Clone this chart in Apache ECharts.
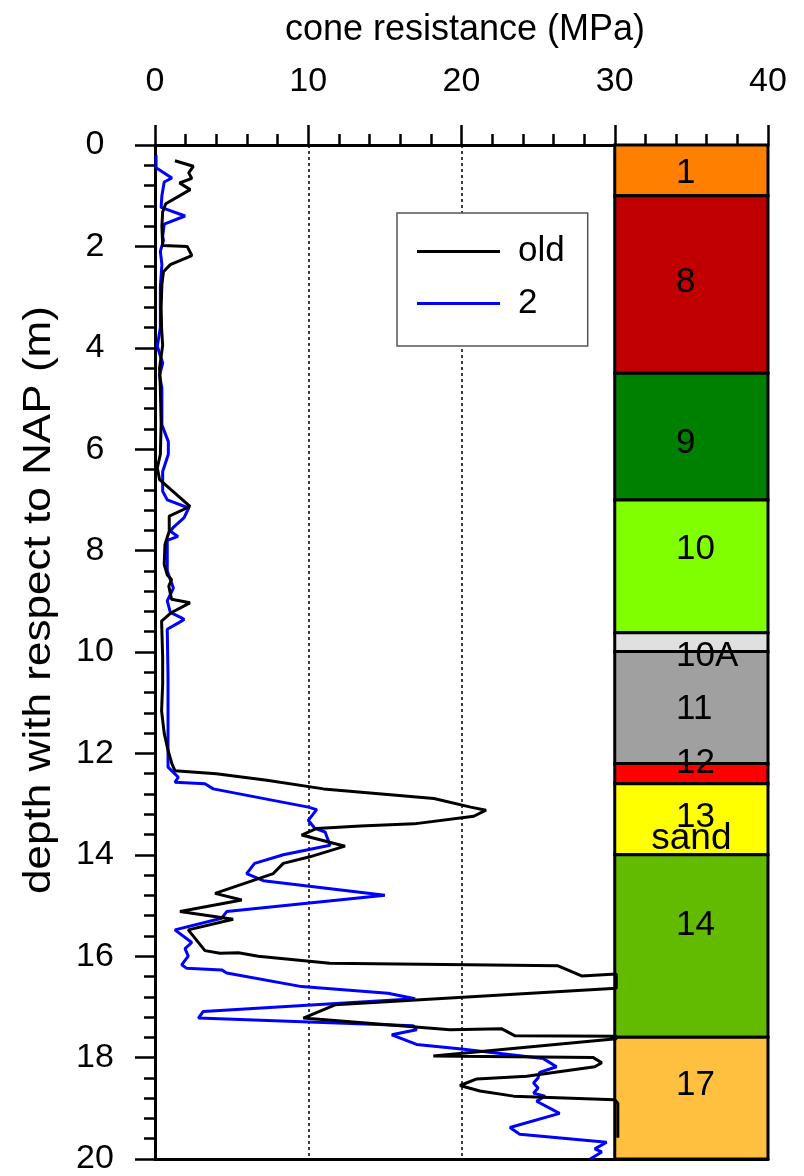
<!DOCTYPE html>
<html>
<head>
<meta charset="utf-8">
<script src="https://cdn.jsdelivr.net/npm/echarts@6/dist/echarts.min.js"></script>
<style>
html,body{margin:0;padding:0;background:#fff;}
#chart{width:804px;height:1176px;}
</style>
</head>
<body>
<div id="chart"></div>
<script>
// ---- data ----
const xTickLabels = ['0','10','20','30','40'];
const yTickLabels = ['0','2','4','6','8','10','12','14','16','18','20'];

// series "old": cone resistance (MPa) vs depth (m)
const oldQc = [1.3,2.5,2.2,2.4,1.6,2.3,0.7,0.5,0.45,0.5,2.1,2.4,1.0,0.55,0.45,0.4,0.43,0.5,0.3,0.35,0.4,0.35,0.15,0.3,2.28,0.93,0.93,0.65,0.6,0.8,1.08,0.9,1.08,2.28,1.08,0.43,0.5,0.5,0.43,0.6,0.85,1.1,1.3,4.0,7.3,11.0,18.2,20.6,21.6,20.8,16.9,13.4,10.55,9.57,12.4,10.1,8.37,7.72,3.92,5.66,1.63,5.1,2.17,3.05,3.26,4.24,5.44,6.74,11.4,26.3,27.84,30.1,30.1,11.75,9.68,19.25,22.6,23.5,30.1,30.1,18.16,28.6,29.15,28.7,24.25,21.0,19.9,21.2,23.4,30.0,30.2,30.2];
const oldDepth = [0.31,0.42,0.55,0.66,0.75,0.88,1.16,1.32,1.6,1.98,2.0,2.18,2.36,2.5,2.75,3.2,3.62,3.95,4.4,4.8,5.5,6.1,6.37,6.6,7.13,7.32,7.62,7.88,8.27,8.48,8.57,8.7,8.96,9.03,9.22,9.39,10.1,10.63,11.16,11.6,11.94,12.2,12.34,12.4,12.53,12.7,12.89,13.06,13.12,13.24,13.39,13.43,13.48,13.61,13.83,14.04,14.17,14.37,14.76,14.89,15.12,15.27,15.48,15.81,15.89,15.94,15.93,16.0,16.14,16.19,16.39,16.35,16.63,16.96,17.22,17.45,17.43,17.57,17.58,17.63,17.97,18.0,18.1,18.18,18.37,18.42,18.55,18.66,18.76,18.83,18.9,19.58];

// series "2"
const newQc = [0.07,0.07,1.1,0.6,0.45,0.4,1.96,0.6,0.5,0.55,0.35,0.45,0.35,0.35,0.15,0.5,0.3,0.45,0.45,0.87,0.87,0.5,0.5,0.8,2.2,1.9,1.2,1.0,1.5,0.8,0.8,1.2,0.8,1.0,1.7,1.9,1.5,0.8,0.85,0.85,0.9,1.52,1.3,3.26,3.8,10.0,10.55,10.0,10.44,11.1,11.42,8.37,6.5,5.98,7.07,15.0,4.68,4.35,1.3,2.4,1.96,2.17,1.74,2.07,4.35,4.68,9.57,15.2,16.97,3.15,2.83,16.85,17.07,15.45,17.07,20.0,25.34,26.2,25.1,25.0,24.7,25.0,24.7,25.45,24.9,26.4,23.16,23.8,29.47,28.7,29.15,28.4];
const newDepth = [0.2,0.45,0.65,0.73,1.0,1.23,1.4,1.56,1.8,1.88,2.1,2.36,2.8,3.6,3.97,4.3,4.54,4.8,5.52,5.85,6.1,6.44,6.83,7.0,7.16,7.35,7.54,7.62,7.72,7.8,8.4,8.74,8.99,9.22,9.32,9.36,9.43,9.55,10.5,12.27,12.3,12.47,12.57,12.6,12.7,13.06,13.11,13.32,13.48,13.55,13.81,14.0,14.17,14.37,14.51,14.8,15.12,15.25,15.48,15.73,15.85,16.0,16.17,16.24,16.27,16.33,16.6,16.73,16.84,17.09,17.22,17.37,17.45,17.55,17.74,17.83,18.02,18.18,18.29,18.4,18.5,18.6,18.7,18.76,18.86,19.1,19.38,19.51,19.67,19.8,19.86,20.0];

// soil layer column
const layerNames  = ['1','8','9','10','10A','11','12','13','14','17'];
const layerTop    = [0,1.0,4.5,7.0,9.62,9.99,12.2,12.6,14.0,17.6];
const layerBottom = [1.0,4.5,7.0,9.62,9.99,12.2,12.6,14.0,17.6,20];
const labelDepth  = [0.56,2.7,5.88,7.98,10.08,11.14,12.19,13.26,15.4,18.55];
const subLabels   = ['','','','','','','','sand','',''];
const subLabelDepth = [0,0,0,0,0,0,0,13.68,0,0];
const layerColors = ['#FF8000','#C00000','#008000','#80FF00','#E0E0E0','#A0A0A0','#FF0000','#FFFF00','#63BB00','#FFC040'];

// ---- chart ----
const FONT = '"Liberation Sans", Arial, Helvetica, sans-serif';
const COL_X0 = 30, COL_X1 = 40, LABEL_X = 34, SUB_LABEL_X = 35;

const oldData = oldQc.map((v, i) => [v, oldDepth[i]]);
const newData = newQc.map((v, i) => [v, newDepth[i]]);
const layerData = layerNames.map((n, i) => [COL_X0, layerTop[i], COL_X1, layerBottom[i]]);

const chart = echarts.init(document.getElementById('chart'), null, {renderer: 'canvas'});
chart.setOption({
  animation: false,
  backgroundColor: '#fff',
  grid: {left: 155, right: 36, top: 145, bottom: 12},
  xAxis: [{
    type: 'value', position: 'top', min: 0, max: 40, interval: 10,
    axisLine: {show: true, lineStyle: {color: '#000', width: 3}},
    axisTick: {show: true, length: 20, lineStyle: {color: '#000', width: 2.5}},
    minorTick: {show: true, splitNumber: 5, length: 11, lineStyle: {color: '#000', width: 2.5}},
    axisLabel: {fontSize: 34, color: '#000', fontFamily: FONT, margin: 63, verticalAlign: 'middle',
      formatter: (v) => xTickLabels[Math.round(v / 10)]},
    splitLine: {show: true, lineStyle: {type: [3, 3], color: '#000', width: 1.5}}
  }, {
    type: 'value', position: 'bottom', min: 0, max: 40,
    axisLine: {show: true, onZero: false, lineStyle: {color: '#000', width: 3}},
    axisTick: {show: false}, axisLabel: {show: false}, splitLine: {show: false}
  }],
  yAxis: {
    type: 'value', inverse: true, min: 0, max: 20, interval: 2,
    axisLine: {show: true, onZero: false, lineStyle: {color: '#000', width: 3}},
    axisTick: {show: true, length: 20, lineStyle: {color: '#000', width: 2.5}},
    minorTick: {show: true, splitNumber: 5, length: 11, lineStyle: {color: '#000', width: 2.5}},
    axisLabel: {fontSize: 34, color: '#000', fontFamily: FONT, margin: 60, align: 'center',
      formatter: (v) => yTickLabels[Math.round(v / 2)]},
    splitLine: {show: false}
  },
  legend: {
    orient: 'vertical', left: 397, top: 213,
    padding: [21, 23, 25, 20],
    icon: 'rect',
    itemWidth: 83, itemHeight: 3, itemGap: 17,
    borderColor: '#555', borderWidth: 1.5, backgroundColor: '#fff',
    textStyle: {fontSize: 35, lineHeight: 34, color: '#000', fontFamily: FONT, padding: [0, 0, 0, 13]},
    data: ['old', '2']
  },
  graphic: [
    {type: 'text', x: 465, y: 30, style: {text: 'cone resistance (MPa)', fontSize: 36, fill: '#000', fontFamily: FONT, align: 'center', verticalAlign: 'middle'}},
    {type: 'text', x: 40, y: 600, rotation: Math.PI / 2, scaleX: 1.16,
      style: {text: 'depth with respect to NAP (m)', fontSize: 38, fill: '#000', fontFamily: FONT, align: 'center', verticalAlign: 'middle'}}
  ],
  series: [
    {
      type: 'custom', name: 'layers', z: 1, xAxisIndex: 0,
      encode: {x: [0, 2], y: [1, 3]},
      data: layerData,
      renderItem: function (params, api) {
        const i = params.dataIndex;
        const p0 = api.coord([api.value(0), api.value(1)]);
        const p1 = api.coord([api.value(2), api.value(3)]);
        const children = [{
          type: 'rect', z2: 0,
          shape: {x: p0[0], y: p0[1], width: p1[0] - p0[0], height: p1[1] - p0[1]},
          style: {fill: layerColors[i], stroke: '#000', lineWidth: 3}
        }];
        const lp = api.coord([LABEL_X, labelDepth[i]]);
        children.push({type: 'text', z2: 10, x: lp[0], y: lp[1],
          style: {text: layerNames[i], fontSize: 35, fill: '#000', fontFamily: FONT, align: 'left', verticalAlign: 'middle'}});
        if (subLabels[i]) {
          const sp = api.coord([SUB_LABEL_X, subLabelDepth[i]]);
          children.push({type: 'text', z2: 10, x: sp[0], y: sp[1],
            style: {text: subLabels[i], fontSize: 37, fill: '#000', fontFamily: FONT, align: 'center', verticalAlign: 'middle'}});
        }
        return {type: 'group', children: children};
      }
    },
    {
      type: 'line', name: '2', z: 3, xAxisIndex: 0, symbol: 'none',
      lineStyle: {color: '#0000FF', width: 3}, itemStyle: {color: '#0000FF'},
      data: newData
    },
    {
      type: 'line', name: 'old', z: 4, xAxisIndex: 0, symbol: 'none',
      lineStyle: {color: '#000000', width: 3}, itemStyle: {color: '#000000'},
      data: oldData
    }
  ]
});
</script>
</body>
</html>
